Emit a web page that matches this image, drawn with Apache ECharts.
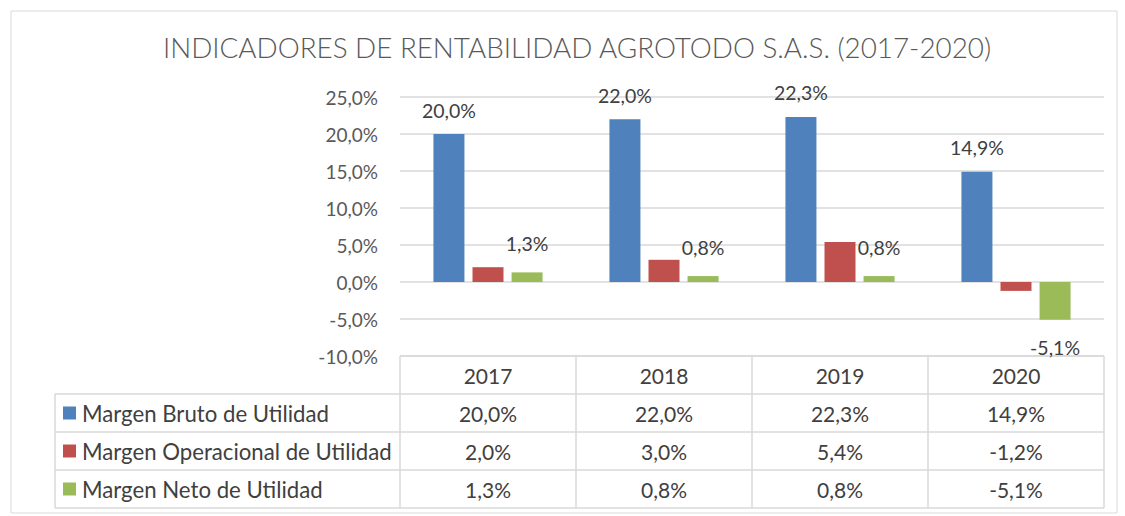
<!DOCTYPE html>
<html>
<head>
<meta charset="utf-8">
<script src="https://cdn.jsdelivr.net/npm/echarts@6/dist/echarts.min.js"></script>
<style>
html,body{margin:0;padding:0;background:#fff;}
#c{width:1125px;height:516px;}
</style>
</head>
<body>
<div id="c"></div>
<script>
const title = 'INDICADORES DE RENTABILIDAD AGROTODO S.A.S. (2017-2020)';
const categories = ['2017', '2018', '2019', '2020'];
const seriesNames = ['Margen Bruto de Utilidad', 'Margen Operacional de Utilidad', 'Margen Neto de Utilidad'];
const margenBruto = [20.0, 22.0, 22.3, 14.9];
const margenOperacional = [2.0, 3.0, 5.4, -1.2];
const margenNeto = [1.3, 0.8, 0.8, -5.1];
const yTicks = [-10, -5, 0, 5, 10, 15, 20, 25];

const colors = ['#4F81BD', '#C0504D', '#9BBB59'];
const FONT = 'Lato';
const fmt = v => v.toFixed(1).replace('.', ',') + '%';

const chart = echarts.init(document.getElementById('c'), null, {renderer: 'svg'});

const gridLeft = 400, gridRight = 1104, gridTop = 97, gridBottom = 356;
const rowH = 38;
const TBL_FS = 21;

const allSeries = [margenBruto, margenOperacional, margenNeto];

chart.setOption({
  animation: false,
  backgroundColor: '#fff',
  title: {
    text: title, left: 572, textAlign: 'center', top: 28,
    textStyle: {fontFamily: FONT, fontWeight: 300, fontSize: 27.8, color: '#595959'}
  },
  grid: {left: gridLeft, right: 1125 - gridRight, top: gridTop, bottom: 516 - gridBottom, containLabel: false},
  xAxis: {
    type: 'category', data: categories,
    axisLine: {show: false}, axisTick: {show: false},
    axisLabel: {show: true, margin: 9, fontFamily: FONT, fontSize: TBL_FS, color: '#404040'}
  },
  yAxis: {
    type: 'value', min: yTicks[0], max: yTicks[yTicks.length - 1], interval: 5,
    axisLine: {show: false}, axisTick: {show: false},
    axisLabel: {formatter: v => fmt(v), fontFamily: FONT, fontSize: 19, color: '#595959', margin: 22},
    splitLine: {lineStyle: {color: '#d9d9d9', width: 1.5}}
  },
  series: allSeries.map((arr, si) => ({
    name: seriesNames[si], type: 'bar', barWidth: 31, barGap: '26%',
    itemStyle: {color: colors[si]},
    data: arr.map(v => {
      if (si === 2 && v < 0) {
        return {value: v, label: {position: 'bottom', distance: 18}};
      }
      return {value: v};
    }),
    label: {
      show: si !== 1,
      position: 'top',
      distance: si === 0 ? 14 : 19,
      formatter: p => fmt(p.value),
      fontFamily: FONT, fontSize: 19.5, color: '#404040'
    }
  }))
});

// Data table under the plot
const colW = (gridRight - gridLeft) / categories.length;
const tableLeft = 55;
const g = [];
const lineStyle = {stroke: '#d9d9d9', lineWidth: 1.5};
const hline = (x1, x2, y) => g.push({type: 'line', shape: {x1, y1: y, x2, y2: y}, style: lineStyle, silent: true});
const vline = (x, y1, y2) => g.push({type: 'line', shape: {x1: x, y1, x2: x, y2}, style: lineStyle, silent: true});

hline(gridLeft, gridRight, gridBottom);
for (let r = 1; r <= 4; r++) hline(tableLeft, gridRight, gridBottom + r * rowH);
vline(tableLeft, gridBottom + rowH, gridBottom + 4 * rowH);
for (let c = 0; c <= categories.length; c++) vline(gridLeft + c * colW, gridBottom, gridBottom + 4 * rowH);

allSeries.forEach((arr, si) => {
  const cy = gridBottom + rowH * (si + 1) + rowH / 2;
  g.push({type: 'rect', shape: {x: 63, y: cy - 6.5, width: 13, height: 13}, style: {fill: colors[si]}, silent: true});
  g.push({type: 'text', x: 82, y: cy, style: {text: seriesNames[si], fontFamily: FONT, fontSize: 22.2, fill: '#404040', textVerticalAlign: 'middle', verticalAlign: 'middle'}, silent: true});
  arr.forEach((v, ci) => {
    g.push({type: 'text', x: gridLeft + ci * colW + colW / 2, y: cy,
      style: {text: fmt(v), fontFamily: FONT, fontSize: TBL_FS, fill: '#404040', align: 'center', textAlign: 'center', verticalAlign: 'middle', textVerticalAlign: 'middle'}, silent: true});
  });
});

// outer chart border
g.push({type: 'rect', shape: {x: 11, y: 11, width: 1106, height: 502}, style: {fill: 'none', stroke: '#d9d9d9', lineWidth: 1}, silent: true, z: -1});

chart.setOption({graphic: g});
</script>
</body>
</html>
